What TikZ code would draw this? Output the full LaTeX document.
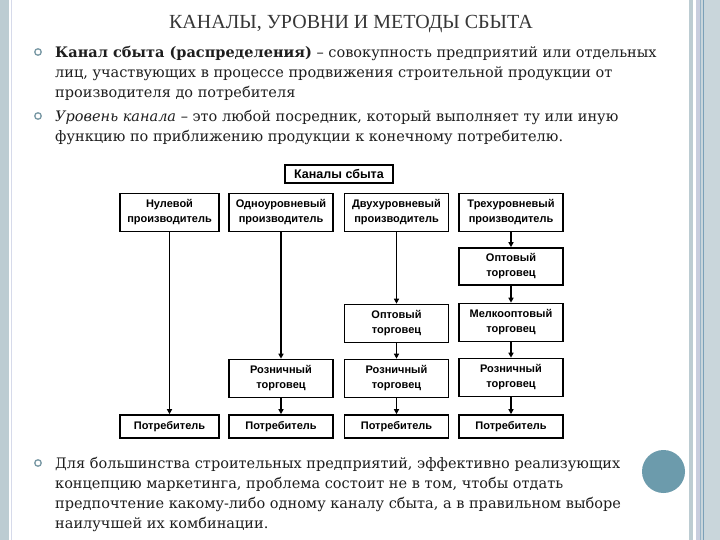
\documentclass[tikz,border=0pt]{standalone}
\usepackage{fontspec}
\setmainfont{DejaVu Serif}
\newfontfamily\headfont{Liberation Serif}
\newfontfamily\boxfont{Liberation Sans}
\usetikzlibrary{positioning,arrows.meta}
\definecolor{stripgray}{RGB}{188,204,210}
\definecolor{stripline}{RGB}{214,218,234}
\definecolor{stripdark}{RGB}{122,160,184}
\definecolor{stripmid}{RGB}{200,205,222}
\definecolor{dotteal}{RGB}{108,155,172}
\definecolor{bulletcol}{RGB}{120,152,164}
\definecolor{headgray}{RGB}{55,55,55}
\definecolor{bodyink}{RGB}{30,30,30}

\tikzset{
  chanbox/.style={draw=black,line width=1.6pt,fill=white,align=center,
    font=\boxfont\bfseries\fontsize{11}{15}\selectfont,
    minimum width=104pt,minimum height=38pt,inner sep=1pt},
  endbox/.style={chanbox,minimum height=23pt},
  flow/.style={-{Triangle[length=5pt,width=5pt]},line width=1.5pt},
  bulletmark/.style={circle,draw=bulletcol,line width=1.3pt,fill=white,
    minimum size=6.5pt,inner sep=0pt},
  % base anchor of a multi-line node = baseline of its last line
  bodytext/.style={anchor=base west,inner sep=0pt,align=left,text=bodyink,
    font=\fontsize{14.5}{20}\selectfont}
}

\begin{document}
\begin{tikzpicture}[x=1pt,y=-1pt]
  \useasboundingbox (0,0) rectangle (720,540);
  % slide frame
  \fill[white] (0,0) rectangle (720,540);
  \fill[stripgray] (0,0) rectangle (9,540);
  \fill[stripline] (10.5,0) rectangle (12,540);
  \fill[stripgray] (689,0) rectangle (693,540);
  \fill[stripmid] (696,0) rectangle (700,540);
  \fill[stripgray!80] (700,0) rectangle (720,540);
  \draw[stripdark!80,line width=1pt] (700.5,0) -- (700.5,540);
  \draw[stripdark,line width=1pt] (703,0) -- (703,540);

  % title and text
  \node[font=\headfont\fontsize{20}{24}\selectfont,text=headgray,anchor=base]
    (title) at (351,29) {КАНАЛЫ, УРОВНИ И МЕТОДЫ СБЫТА};
  \node[bulletmark] (dot1) at (38,52) {};
  \node[bodytext] (para1) at (55,98)
    {\textbf{Канал сбыта (распределения)} – совокупность предприятий или отдельных\\
     лиц, участвующих в процессе продвижения строительной продукции от\\
     производителя до потребителя};
  \node[bulletmark] (dot2) at (38,116) {};
  \node[bodytext] (para2) at (55,142)
    {\textit{Уровень канала} – это любой посредник, который выполняет ту или иную\\
     функцию по приближению продукции к конечному потребителю.};
  \node[bulletmark] (dot3) at (38,463) {};
  \node[bodytext] (para3) at (55,528)
    {Для большинства строительных предприятий, эффективно реализующих\\
     концепцию маркетинга, проблема состоит не в том, чтобы отдать\\
     предпочтение какому-либо одному каналу сбыта, а в правильном выборе\\
     наилучшей их комбинации.};
  \fill[dotteal] (663.5,471.5) circle (21.5);

  % channels chart
  \node[chanbox,font=\boxfont\bfseries\fontsize{12.5}{14}\selectfont,
        minimum width=108pt,minimum height=18pt] (channels) at (339,174) {Каналы сбыта};

  \node[chanbox,minimum width=99pt] (zero) at (169.5,212.5) {Нулевой\\производитель};
  \node[chanbox] (one)   at (281,212.5)   {Одноуровневый\\производитель};
  \node[chanbox] (two)   at (396.5,212.5) {Двухуровневый\\производитель};
  \node[chanbox] (three) at (511,212.5)   {Трехуровневый\\производитель};

  \node[chanbox,minimum height=37pt] (wholeC) at (511,266.5) {Оптовый\\торговец};
  \node[chanbox] (wholeB) at (396.5,323.5) {Оптовый\\торговец};
  \node[chanbox] (smallC) at (511,322.5)   {Мелкооптовый\\торговец};

  \node[chanbox] (retailA) at (281,378.5)   {Розничный\\торговец};
  \node[chanbox] (retailB) at (396.5,378.5) {Розничный\\торговец};
  \node[chanbox] (retailC) at (511,377.5)   {Розничный\\торговец};

  \node[endbox,minimum width=99pt] (userZ) at (169.5,426.5) {Потребитель};
  \node[endbox] (userA) at (281,426.5)   {Потребитель};
  \node[endbox] (userB) at (396.5,426.5) {Потребитель};
  \node[endbox] (userC) at (511,426.5)   {Потребитель};

  \draw[flow] (zero) -- (userZ);
  \draw[flow] (one) -- (retailA);
  \draw[flow] (retailA) -- (userA);
  \draw[flow] (two) -- (wholeB);
  \draw[flow] (wholeB) -- (retailB);
  \draw[flow] (retailB) -- (userB);
  \draw[flow] (three) -- (wholeC);
  \draw[flow] (wholeC) -- (smallC);
  \draw[flow] (smallC) -- (retailC);
  \draw[flow] (retailC) -- (userC);
\end{tikzpicture}
\end{document}
